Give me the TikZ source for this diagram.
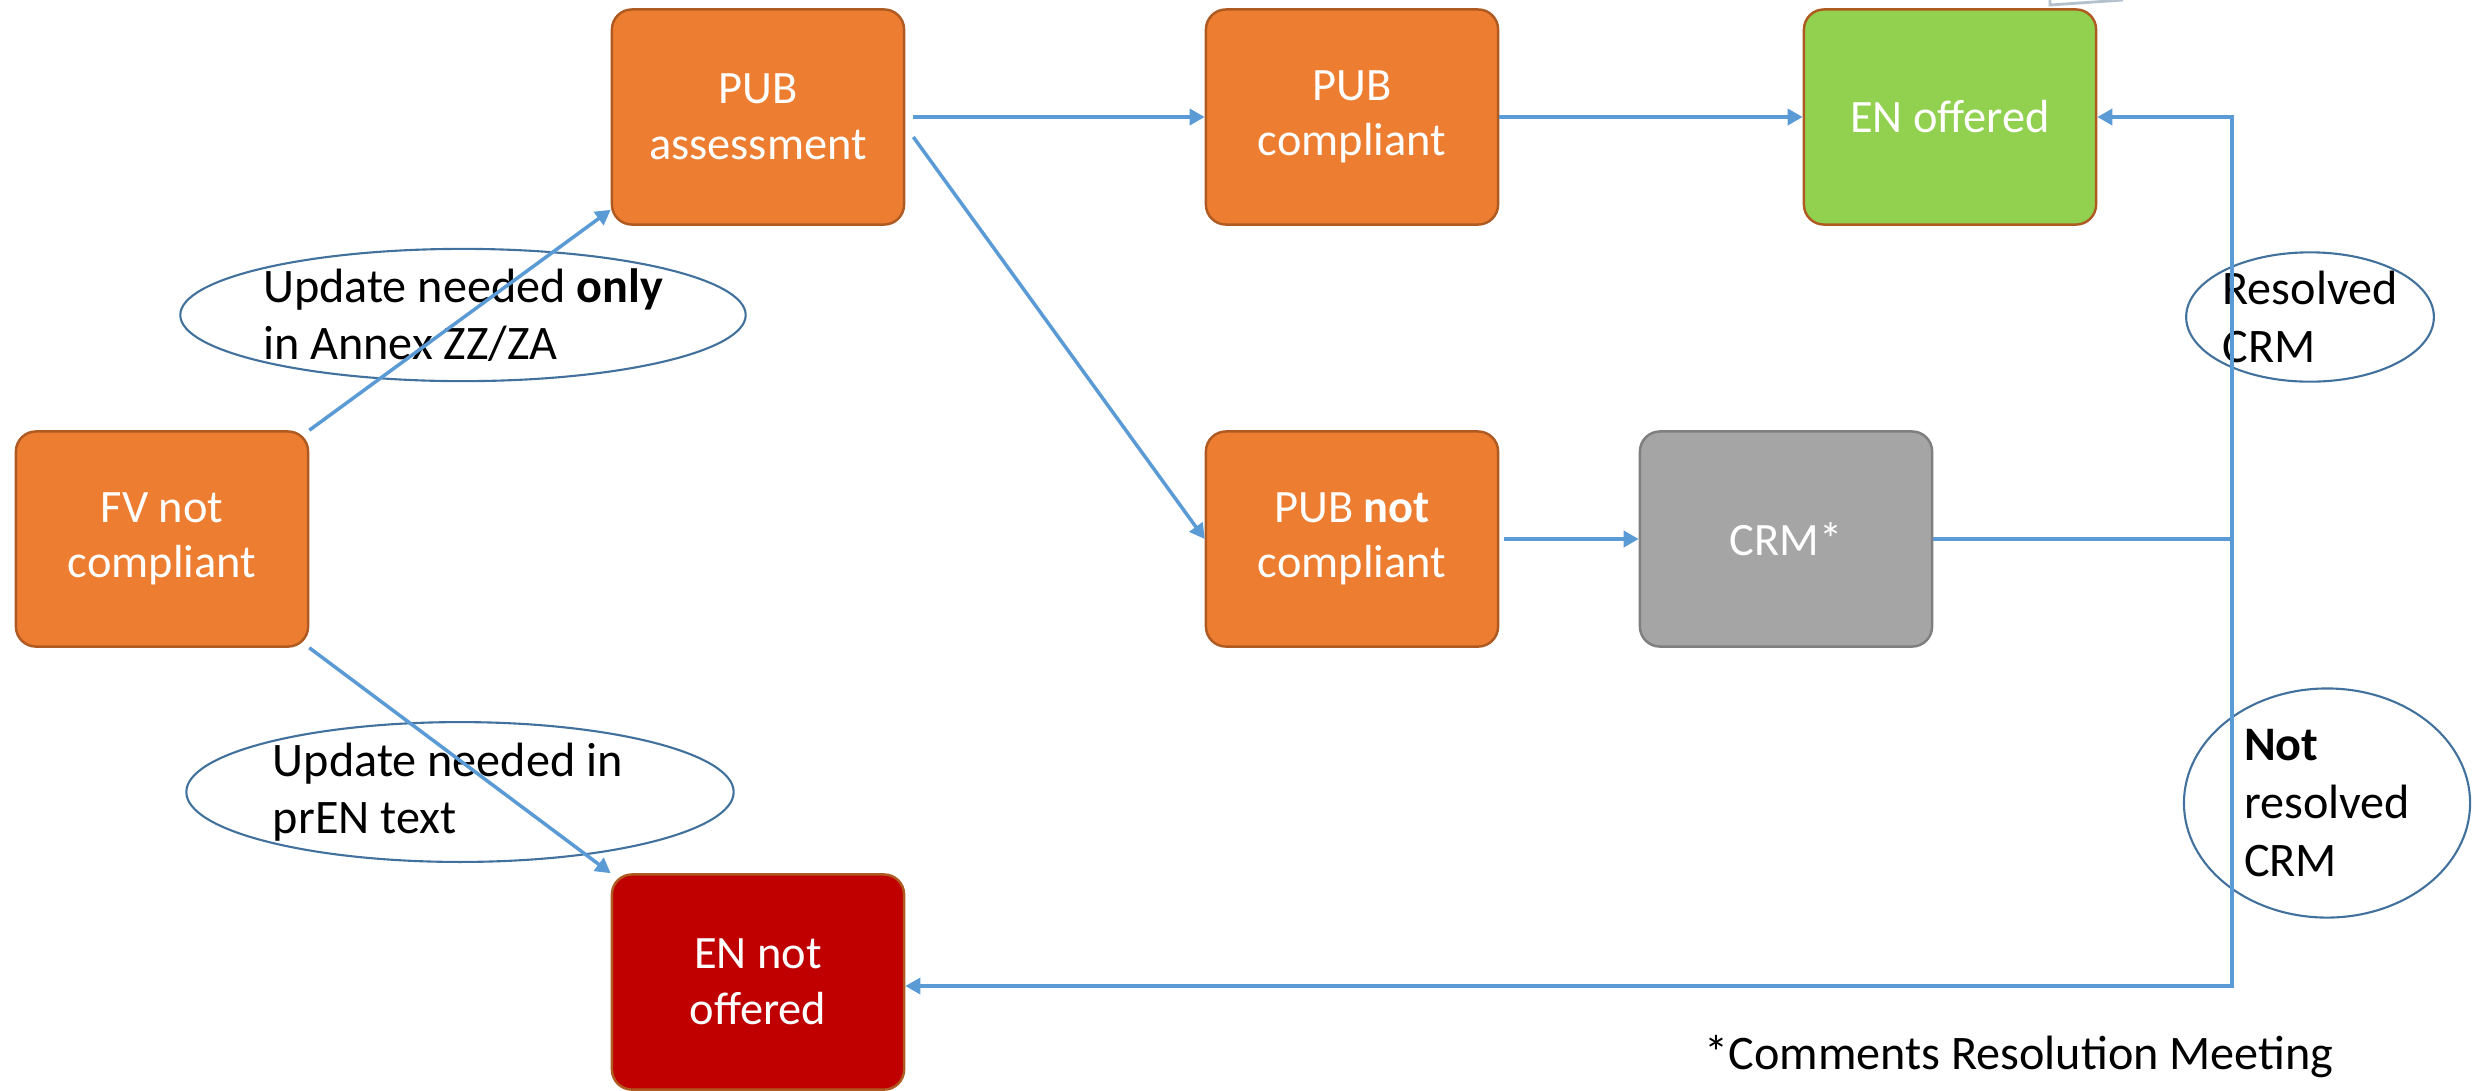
\documentclass[tikz,border=0pt]{standalone}
\usepackage{fontspec}
\setmainfont{Carlito}
\usepackage{tikz}
\usetikzlibrary{arrows.meta}
\usetikzlibrary{shapes.geometric}

\definecolor{boxorange}{HTML}{ED7D31}
\definecolor{boxedge}{HTML}{AE5A21}
\definecolor{boxgreen}{HTML}{92D050}
\definecolor{boxgrey}{HTML}{A5A5A5}
\definecolor{greyedge}{HTML}{7F7F7F}
\definecolor{boxred}{HTML}{C00000}
\definecolor{linkblue}{HTML}{5B9BD5}
\definecolor{ovaledge}{HTML}{41719C}
\definecolor{faintline}{HTML}{B4C0CC}

\begin{document}
\begin{tikzpicture}[x=0.01cm, y=-0.01cm]
    	\tikzstyle{mybox} =
    	[rectangle,
    	rounded corners = 0.2cm,
    	minimum width = 2.92cm,
    	minimum height = 2.15cm,
    	inner sep = 0pt,
    	draw = boxedge,
    	line width = 0.7pt,
    	text = white,
    	align = center,
    	font = \fontsize{13.2}{15.8}\selectfont
    	]
    	\tikzstyle{myoval} =
    	[ellipse,
    	draw = ovaledge,
    	line width = 0.6pt,
    	inner sep = 0pt,
    	align = left,
    	font = \fontsize{13.7}{16.4}\selectfont
    	]
    	\tikzstyle{myarrow} =
    	[draw = linkblue,
    	line width = 1pt,
    	-{Triangle[length=0.15cm, width=0.16cm]}
    	]
    	\tikzstyle{myline} =
    	[draw = linkblue,
    	line width = 1pt
    	]

        \useasboundingbox (0,0) rectangle (2473,1090);

        % boxes
        \node[mybox, fill=boxorange] (fv)     at (162,539)  {FV not\\compliant};
        \node[mybox, fill=boxorange] (pubass) at (758,117)  {PUB\\assessment};
        \node[mybox, fill=boxorange] (pubc)   at (1352,117) {PUB\\compliant};
        \node[mybox, fill=boxgreen]  (enoff)  at (1950,117) {EN offered};
        \node[mybox, fill=boxorange] (pubnc)  at (1352,539) {PUB \textbf{not}\\compliant};
        \node[mybox, fill=boxgrey, draw=greyedge] (crm) at (1786,539) {CRM*};
        \node[mybox, fill=boxred]    (enno)   at (758,982)  {EN not\\offered};

        % ovals
        \node[myoval, minimum width=5.47cm, minimum height=1.15cm] (onlyzz)
        	at (463,315) {Update needed \textbf{only}\\in Annex ZZ/ZA};
        \node[myoval, minimum width=5.47cm, minimum height=1.37cm,
        	text width=3.74cm, align=flush left] (intext)
        	at (460,792) {Update needed in\\prEN text};
        \node[myoval, minimum width=2.09cm, minimum height=1.26cm] (resolved)
        	at (2310,317) {Resolved\\CRM};
        \node[myoval, minimum width=2.86cm, minimum height=2.29cm] (notres)
        	at (2327,803) {\textbf{Not}\\resolved\\CRM};

        \node[font=\fontsize{13.7}{16.4}\selectfont] (note) at (2019,1057)
        	{*Comments Resolution Meeting};

        % connectors
        \coordinate (junc) at (2232,539);
        \coordinate (cut1) at (2050,0);
        \coordinate (cut2) at (2123,0);
        \draw[myarrow] (fv.north east) -- ([yshift=0.16cm]pubass.south west);
        \draw[myarrow] (fv.south east) -- (enno.north west);
        \draw[myarrow, shorten <=0.08cm] (pubass.east) -- (pubc.west);
        \draw[myarrow] ([xshift=0.08cm, yshift=-0.2cm]pubass.east) -- (pubnc.west);
        \draw[myarrow] (pubc.east) -- (enoff.west);
        \draw[myarrow, shorten <=0.05cm] (pubnc.east) -- (crm.west);
        \draw[myline] (crm.east) -- (junc);
        \draw[myarrow] (junc) |- (enoff.east);
        \draw[myarrow] (junc) |- ([yshift=-0.04cm]enno.east);
        \draw[faintline, line width=0.8pt] (cut1) -- ++(0,5) -- (cut2);
\end{tikzpicture}
\end{document}
